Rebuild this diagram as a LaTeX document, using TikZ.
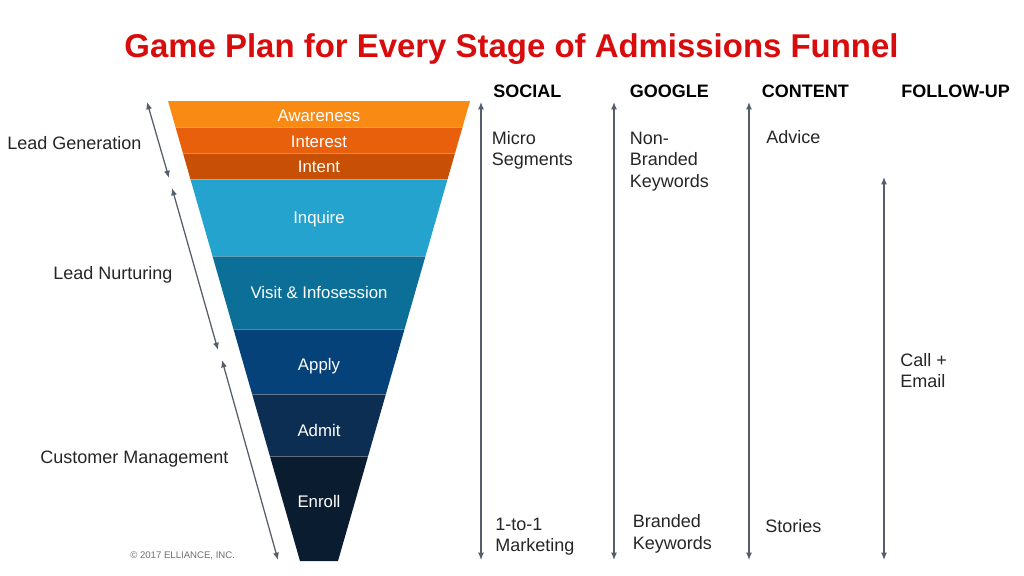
\documentclass[tikz,border=0pt]{standalone}
\usepackage{fontspec}
\setmainfont{Liberation Sans}
\usetikzlibrary{arrows.meta}
\definecolor{titlered}{HTML}{D80C0C}
\definecolor{cAware}{HTML}{F98A14}
\definecolor{cInterest}{HTML}{E9600C}
\definecolor{cIntent}{HTML}{C74F06}
\definecolor{cInquire}{HTML}{23A3CE}
\definecolor{cVisit}{HTML}{0B6F98}
\definecolor{cApply}{HTML}{06427A}
\definecolor{cAdmit}{HTML}{0C2E52}
\definecolor{cEnroll}{HTML}{0A1C30}
\definecolor{arrowgray}{HTML}{565E6B}
\definecolor{bodygray}{HTML}{262626}
\definecolor{copygray}{HTML}{6E6E6E}
\tikzset{
  ftext/.style={text=white, font=\fontsize{12.6}{15}\selectfont, anchor=base, inner sep=0pt},
  body/.style={text=bodygray, font=\fontsize{13.5}{16.1}\selectfont, anchor=base west, inner sep=0pt, align=left},
  head/.style={text=black, font=\bfseries\fontsize{13.5}{16}\selectfont, anchor=base west, inner sep=0pt},
  arr/.style={draw=arrowgray, line width=0.95pt, {Latex[length=5.5pt,width=4.5pt]}-{Latex[length=5.5pt,width=4.5pt]}},
  sep/.style={draw=white, draw opacity=0.35, line width=0.6pt},
}
\begin{document}
\begin{tikzpicture}[x=0.75pt,y=-0.75pt]
\useasboundingbox (0,0) rectangle (1024,575);
\fill[white] (0,0) rectangle (1024,575);

% title
\node[text=titlered, font=\bfseries\fontsize{24.7}{30}\selectfont, anchor=base, inner sep=0pt] (title) at (511.5,57) {Game Plan for Every Stage of Admissions Funnel};

% funnel
\begin{scope}
  \clip (168,101) -- (470,101) -- (338,561) -- (300,561) -- cycle;
  \fill[cAware] (150,101) rectangle (490,127);
  \fill[cInterest] (150,127) rectangle (490,153);
  \fill[cIntent] (150,153) rectangle (490,179);
  \fill[cInquire] (150,179) rectangle (490,256);
  \fill[cVisit] (150,256) rectangle (490,329);
  \fill[cApply] (150,329) rectangle (490,394);
  \fill[cAdmit] (150,394) rectangle (490,456);
  \fill[cEnroll] (150,456) rectangle (490,562);
  \foreach \yy in {127,153,179,256,329,394,456} \draw[sep] (150,\yy) -- (490,\yy);
\end{scope}

\node[ftext] (aware) at (319,121) {Awareness};
\node[ftext] (interest) at (319,147) {Interest};
\node[ftext] (intent) at (319,172) {Intent};
\node[ftext] (inquire) at (319,223) {Inquire};
\node[ftext] (visit) at (319,298) {Visit \& Infosession};
\node[ftext] (apply) at (319,370) {Apply};
\node[ftext] (admit) at (319,436) {Admit};
\node[ftext] (enroll) at (319,507) {Enroll};

% left labels
\node[body] (leadgen) at (7,149) {Lead Generation};
\node[body] (leadnur) at (53,279) {Lead Nurturing};
\node[body] (custman) at (40,463) {Customer Management};
\node[text=copygray, font=\fontsize{7.2}{9}\selectfont, anchor=base west, inner sep=0pt] (copy) at (130,558) {\textcopyright{} 2017 ELLIANCE, INC.};

% left diagonal arrows
\coordinate (g1) at (147,102);
\coordinate (g2) at (169,178);
\coordinate (n1) at (172,188);
\coordinate (n2) at (218,350);
\coordinate (m1) at (222,360);
\coordinate (m2) at (278,560);
\draw[arr] (g1) -- (g2);
\draw[arr] (n1) -- (n2);
\draw[arr] (m1) -- (m2);

% headers
\node[head] (hsocial) at (493,97) {SOCIAL};
\node[head] (hgoogle) at (629.5,97) {GOOGLE};
\node[head] (hcontent) at (761.5,97) {CONTENT};
\node[head] (hfollow) at (901,97) {FOLLOW-UP};

% vertical arrows
\coordinate (s1) at (481,102);
\coordinate (s2) at (481,560);
\coordinate (o1) at (614,102);
\coordinate (o2) at (614,560);
\coordinate (c1) at (749,102);
\coordinate (c2) at (749,560);
\coordinate (f1) at (884,177);
\coordinate (f2) at (884,560);
\draw[arr] (s1) -- (s2);
\draw[arr] (o1) -- (o2);
\draw[arr] (c1) -- (c2);
\draw[arr] (f1) -- (f2);

% column texts (base anchor = last line baseline)
\node[body] (micro) at (491.5,165.5) {Micro\\Segments};
\node[body] (nonbr) at (629.5,187) {Non-\\Branded\\Keywords};
\node[body] (advice) at (766,143.5) {Advice};
\node[body] (onetoone) at (495,551.5) {1-to-1\\Marketing};
\node[body] (branded) at (632.5,549) {Branded\\Keywords};
\node[body] (stories) at (765,532.5) {Stories};
\node[body] (call) at (900,387.5) {Call +\\Email};
\end{tikzpicture}
\end{document}
